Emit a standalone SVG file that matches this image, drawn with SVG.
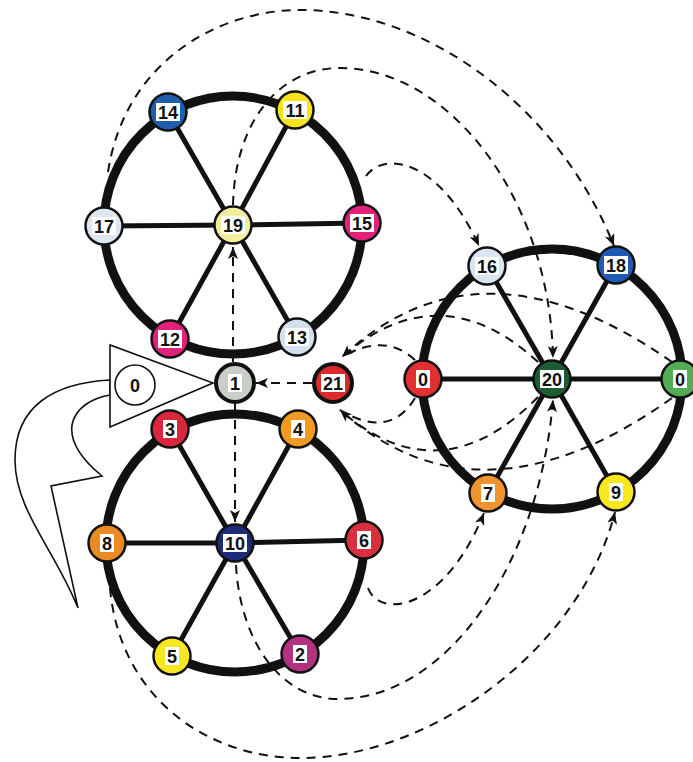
<svg xmlns="http://www.w3.org/2000/svg" width="693" height="762" viewBox="0 0 693 762">
<style>
.rim{fill:none;stroke:#111;stroke-width:9}
.spoke{stroke:#111;stroke-width:5}
.dash{fill:none;stroke:#111;stroke-width:2;stroke-dasharray:9 7}
.nd{stroke:#111;stroke-width:2.5}
.nd2{stroke:#111;stroke-width:4}
.lb{fill:#fff}
.t{font-family:"Liberation Sans",Arial,sans-serif;font-weight:bold;font-size:18px;fill:#111;text-anchor:middle}
.shape{fill:#fff;stroke:#111;stroke-width:1.6}
</style>
<defs>
<marker id="ah" markerUnits="userSpaceOnUse" markerWidth="13" markerHeight="10" refX="12" refY="5" orient="auto">
<path d="M0,0 L12,5 L0,10 L3,5 z" fill="#111"/>
</marker>
</defs>
<rect width="693" height="762" fill="#fff"/>

<g id="pointer">
<path class="shape" d="M110,380 C 55,383 15,405 15,460 C 15,510 55,550 78,608 L 51,486 L 102,476 C 80,458 70,440 72,425 C 75,408 92,398 110,395 Z"/>
<polygon class="shape" points="110,345 110,427 213,383"/>
<circle class="shape" cx="135" cy="385" r="20"/>
<text class="t" x="135" y="391.5">0</text>
</g>

<g id="wheels">
<circle class="rim" cx="233" cy="225" r="129"/>
<line class="spoke" x1="233" y1="225" x2="168" y2="112"/>
<line class="spoke" x1="233" y1="225" x2="295" y2="110"/>
<line class="spoke" x1="233" y1="225" x2="104" y2="226"/>
<line class="spoke" x1="233" y1="225" x2="362" y2="223"/>
<line class="spoke" x1="233" y1="225" x2="170" y2="339"/>
<line class="spoke" x1="233" y1="225" x2="297" y2="337"/>
<circle class="rim" cx="235" cy="543" r="129"/>
<line class="spoke" x1="235" y1="543" x2="170" y2="429"/>
<line class="spoke" x1="235" y1="543" x2="298" y2="429"/>
<line class="spoke" x1="235" y1="543" x2="107" y2="543"/>
<line class="spoke" x1="235" y1="543" x2="364" y2="540"/>
<line class="spoke" x1="235" y1="543" x2="172" y2="656"/>
<line class="spoke" x1="235" y1="543" x2="300" y2="654"/>
<circle class="rim" cx="552" cy="379" r="130"/>
<line class="spoke" x1="552" y1="379" x2="487" y2="266"/>
<line class="spoke" x1="552" y1="379" x2="616" y2="265"/>
<line class="spoke" x1="552" y1="379" x2="423" y2="379"/>
<line class="spoke" x1="552" y1="379" x2="680" y2="379"/>
<line class="spoke" x1="552" y1="379" x2="488" y2="493"/>
<line class="spoke" x1="552" y1="379" x2="616" y2="492"/>
</g>

<g id="connectors">
<path class="dash" d="M108,172 C 125,60 220,10 300,10 C 430,10 560,110 614,246" marker-end="url(#ah)"/>
<path class="dash" d="M233,205 C 235,120 280,68 340,68 C 450,68 550,200 553,358" marker-end="url(#ah)"/>
<path class="dash" d="M366,176 C 385,150 440,160 479,246" marker-end="url(#ah)"/>
<path class="dash" d="M233,362 L233,247" marker-end="url(#ah)"/>
<path class="dash" d="M235,404 L235,522" marker-end="url(#ah)"/>
<path class="dash" d="M312,383 L256,383" marker-end="url(#ah)"/>
<path class="dash" d="M672,362 Q 480,228 342,357" marker-end="url(#ah)"/>
<path class="dash" d="M538,362 Q 440,272 342,357"/>
<path class="dash" d="M415,360 Q 385,332 342,357"/>
<path class="dash" d="M672,398 Q 480,535 340,410" marker-end="url(#ah)"/>
<path class="dash" d="M538,397 Q 440,497 340,410"/>
<path class="dash" d="M415,398 Q 390,440 340,410"/>
<path class="dash" d="M368,588 C 380,620 445,610 484,513" marker-end="url(#ah)"/>
<path class="dash" d="M236,565 C 240,640 280,700 340,699 C 450,697 540,560 553,400" marker-end="url(#ah)"/>
<path class="dash" d="M110,588 C 120,700 210,758 300,758 C 430,758 580,650 615,512" marker-end="url(#ah)"/>
</g>

<g id="n14"><circle class="nd" cx="168" cy="112" r="18.5" fill="#1f5fae"/><rect class="lb" x="156" y="103" width="24" height="18"/><text class="t" x="168" y="118.5">14</text></g>
<g id="n11"><circle class="nd" cx="295" cy="110" r="18.5" fill="#f7e21b"/><rect class="lb" x="283" y="101" width="24" height="18"/><text class="t" x="295" y="116.5">11</text></g>
<g id="n17"><circle class="nd" cx="104" cy="226" r="18.5" fill="#dde6ef"/><rect class="lb" x="92" y="217" width="24" height="18"/><text class="t" x="104" y="232.5">17</text></g>
<g id="n19"><circle class="nd" cx="233" cy="225" r="18.5" fill="#f2eea0"/><rect class="lb" x="221" y="216" width="24" height="18" fill="#f8f5c8"/><text class="t" x="233" y="231.5">19</text></g>
<g id="n15"><circle class="nd" cx="362" cy="223" r="18.5" fill="#e3217b"/><rect class="lb" x="350" y="214" width="24" height="18"/><text class="t" x="362" y="229.5">15</text></g>
<g id="n12"><circle class="nd" cx="170" cy="339" r="18.5" fill="#e3217b"/><rect class="lb" x="158" y="330" width="24" height="18"/><text class="t" x="170" y="345.5">12</text></g>
<g id="n13"><circle class="nd" cx="297" cy="337" r="18.5" fill="#d3dfec"/><rect class="lb" x="285" y="328" width="24" height="18"/><text class="t" x="297" y="343.5">13</text></g>

<g id="n1"><circle class="nd2" cx="235" cy="383" r="19" fill="#c9cec9"/><rect class="lb" x="228" y="374" width="14" height="18" fill="#e2e5e2"/><text class="t" x="235" y="389.5">1</text></g>
<g id="n21"><circle class="nd2" cx="333" cy="383" r="19" fill="#dc2a2a"/><rect class="lb" x="321" y="374" width="24" height="18"/><text class="t" x="333" y="389.5">21</text></g>

<g id="n3"><circle class="nd" cx="170" cy="429" r="18.5" fill="#d9283d"/><rect class="lb" x="163" y="420" width="14" height="18"/><text class="t" x="170" y="435.5">3</text></g>
<g id="n4"><circle class="nd" cx="298" cy="429" r="18.5" fill="#f39a22"/><rect class="lb" x="291" y="420" width="14" height="18"/><text class="t" x="298" y="435.5">4</text></g>
<g id="n8"><circle class="nd" cx="107" cy="543" r="18.5" fill="#ea8a22"/><rect class="lb" x="100" y="534" width="14" height="18"/><text class="t" x="107" y="549.5">8</text></g>
<g id="n10"><circle class="nd" cx="235" cy="543" r="18.5" fill="#1d2b78"/><rect class="lb" x="223" y="534" width="24" height="18"/><text class="t" x="235" y="549.5">10</text></g>
<g id="n6"><circle class="nd" cx="364" cy="540" r="18.5" fill="#d92f3e"/><rect class="lb" x="357" y="531" width="14" height="18"/><text class="t" x="364" y="546.5">6</text></g>
<g id="n5"><circle class="nd" cx="172" cy="656" r="18.5" fill="#f8e61f"/><rect class="lb" x="165" y="647" width="14" height="18"/><text class="t" x="172" y="662.5">5</text></g>
<g id="n2"><circle class="nd" cx="300" cy="654" r="18.5" fill="#b3317f"/><rect class="lb" x="293" y="645" width="14" height="18"/><text class="t" x="300" y="660.5">2</text></g>

<g id="n16"><circle class="nd" cx="487" cy="266" r="18.5" fill="#dae5f2"/><rect class="lb" x="475" y="257" width="24" height="18"/><text class="t" x="487" y="272.5">16</text></g>
<g id="n18"><circle class="nd" cx="616" cy="265" r="18.5" fill="#1f5bb5"/><rect class="lb" x="604" y="256" width="24" height="18"/><text class="t" x="616" y="271.5">18</text></g>
<g id="n0a"><circle class="nd" cx="423" cy="379" r="18.5" fill="#e1302f"/><rect class="lb" x="416" y="370" width="14" height="18"/><text class="t" x="423" y="385.5">0</text></g>
<g id="n20"><circle class="nd" cx="552" cy="379" r="18.5" fill="#1d5c32"/><rect class="lb" x="540" y="370" width="24" height="18"/><text class="t" x="552" y="385.5">20</text></g>
<g id="n0b"><circle class="nd" cx="680" cy="379" r="18.5" fill="#52ad54"/><rect class="lb" x="673" y="370" width="14" height="18"/><text class="t" x="680" y="385.5">0</text></g>
<g id="n7"><circle class="nd" cx="488" cy="493" r="18.5" fill="#f0932e"/><rect class="lb" x="481" y="484" width="14" height="18"/><text class="t" x="488" y="499.5">7</text></g>
<g id="n9"><circle class="nd" cx="616" cy="492" r="18.5" fill="#f8e61f"/><rect class="lb" x="609" y="483" width="14" height="18"/><text class="t" x="616" y="498.5">9</text></g>
</svg>
